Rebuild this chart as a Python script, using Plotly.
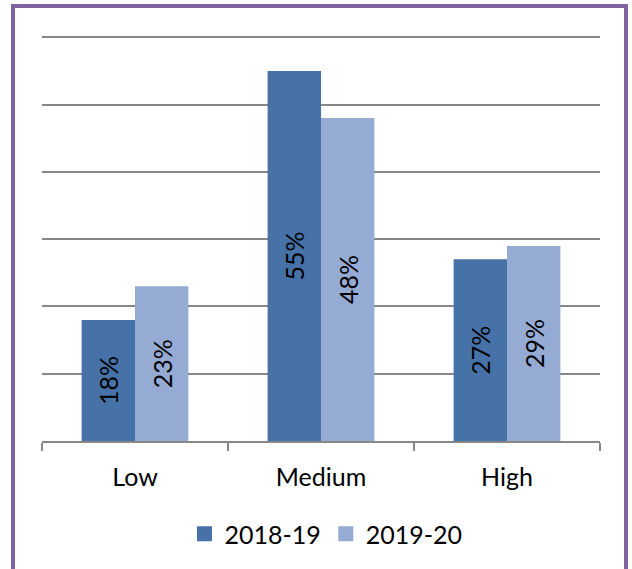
import plotly.graph_objects as go

# Share of respondents by level, two survey years
categories = ["Low", "Medium", "High"]
values_2018_19 = [18, 55, 27]
values_2019_20 = [23, 48, 29]
series_names = ["2018-19", "2019-20"]

W, H = 632, 569
M_L, M_R, M_T, M_B = 42, 32, 34, 128
PLOT_W = W - M_L - M_R
PLOT_H = H - M_T - M_B

FONT = "Lato, Carlito, Liberation Sans, sans-serif"
DARK = "#4672A7"
LIGHT = "#95ABD4"
GRID = "#878787"
FRAME = "#8064A2"


def px_to_paper_x(px):
    return (px - M_L) / PLOT_W


def px_to_paper_y(py):
    return (H - M_B - py) / PLOT_H


fig = go.Figure()
for name, vals, color in [
    (series_names[0], values_2018_19, DARK),
    (series_names[1], values_2019_20, LIGHT),
]:
    fig.add_trace(
        go.Bar(
            x=categories,
            y=vals,
            name=name,
            showlegend=False,
            marker=dict(color=color, line=dict(width=0)),
            text=[f"{v}%" for v in vals],
            textposition="inside",
            insidetextanchor="middle",
            textangle=-90,
            constraintext="none",
            textfont=dict(family=FONT, size=25, color="#000000"),
        )
    )

# Legend keys: larger square swatches than the default bar legend icon
for name, color in [(series_names[0], DARK), (series_names[1], LIGHT)]:
    fig.add_trace(
        go.Scatter(
            x=[None],
            y=[None],
            mode="markers",
            name=name,
            marker=dict(symbol="square", size=15, color=color, line=dict(width=0)),
            hoverinfo="skip",
        )
    )

# Outer frame around the whole chart
fig.add_shape(
    type="rect",
    xref="paper",
    yref="paper",
    x0=px_to_paper_x(13),
    x1=px_to_paper_x(626),
    y0=px_to_paper_y(580),
    y1=px_to_paper_y(6),
    line=dict(color=FRAME, width=4),
    layer="below",
)

fig.update_layout(
    width=W,
    height=H,
    margin=dict(l=M_L, r=M_R, t=M_T, b=M_B),
    paper_bgcolor="white",
    plot_bgcolor="white",
    barmode="group",
    bargap=0.426,
    bargroupgap=0,
    font=dict(family=FONT, size=25, color="#000000"),
    showlegend=True,
    legend=dict(
        orientation="h",
        x=px_to_paper_x(326),
        xanchor="center",
        y=px_to_paper_y(534),
        yanchor="middle",
        font=dict(family=FONT, size=25, color="#000000"),
        traceorder="normal",
        itemwidth=30,
    ),
    xaxis=dict(
        type="category",
        showline=True,
        linecolor=GRID,
        linewidth=1.5,
        ticks="outside",
        tickson="boundaries",
        ticklen=8,
        tickcolor=GRID,
        tickwidth=1.5,
        showgrid=False,
        ticklabelstandoff=13,
        tickfont=dict(family=FONT, size=25, color="#000000"),
    ),
    yaxis=dict(
        range=[0, 60.5],
        tickvals=[10, 20, 30, 40, 50, 60],
        showgrid=True,
        gridcolor=GRID,
        gridwidth=1.5,
        showticklabels=False,
        zeroline=False,
        showline=False,
    ),
)

fig.write_html("out.html")
